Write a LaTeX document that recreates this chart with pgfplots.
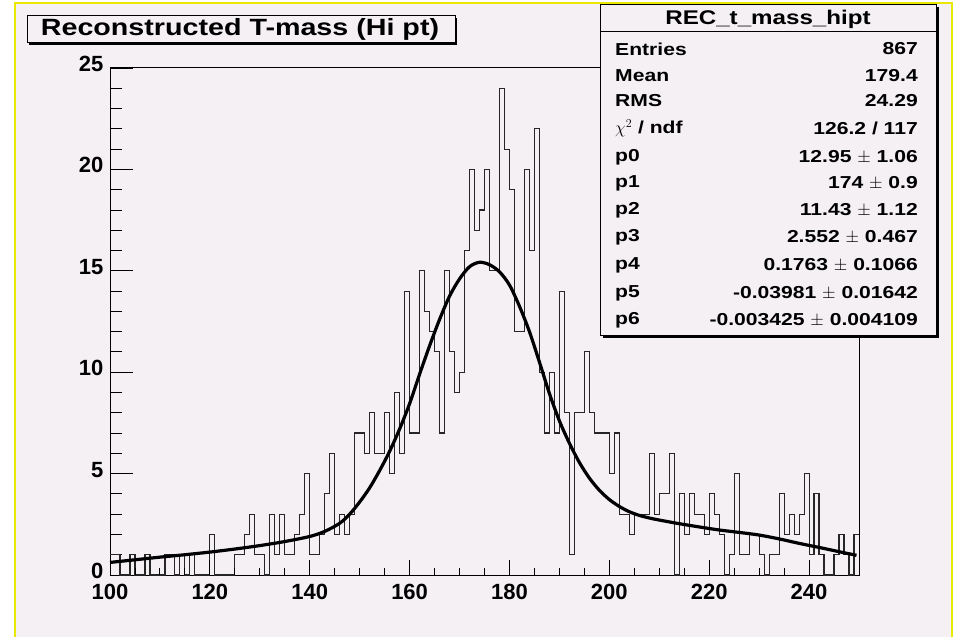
\documentclass[border=0pt]{standalone}
\usepackage{fontspec}
\setmainfont{Liberation Sans}
\newfontfamily\wide[FakeStretch=1.22]{Liberation Sans}
\usepackage{pgfplots}
\pgfplotsset{compat=1.18}
\usepackage{pgfplotstable}
\definecolor{canvas}{HTML}{F4F0F4}
\definecolor{ybord}{HTML}{E8E800}

\pgfplotstableread{
x y
100 1
101 1
102 0
103 0
104 1
105 0
106 0
107 1
108 0
109 0
110 0
111 1
112 1
113 0
114 1
115 0
116 1
117 0
118 0
119 0
120 2
121 0
122 0
123 0
124 0
125 1
126 1
127 2
128 3
129 1
130 1
131 0
132 3
133 1
134 3
135 1
136 1
137 2
138 3
139 5
140 1
141 1
142 2
143 4
144 6
145 2
146 3
147 2
148 3
149 7
150 7
151 6
152 8
153 6
154 6
155 8
156 5
157 9
158 6
159 14
160 7
161 7
162 15
163 13
164 12
165 11
166 7
167 15
168 11
169 9
170 10
171 16
172 20
173 17
174 18
175 20
176 15
177 15
178 24
179 21
180 19
181 12
182 12
183 20
184 16
185 22
186 10
187 7
188 10
189 7
190 14
191 8
192 1
193 8
194 8
195 11
196 8
197 7
198 7
199 7
200 5
201 7
202 3
203 3
204 2
205 3
206 3
207 3
208 6
209 3
210 4
211 4
212 6
213 0
214 4
215 2
216 4
217 3
218 3
219 2
220 4
221 3
222 2
223 0
224 1
225 5
226 1
227 1
228 2
229 2
230 1
231 0
232 1
233 1
234 4
235 2
236 3
237 2
238 3
239 5
240 1
241 4
242 1
243 0
244 0
245 1
246 2
247 1
248 0
249 2
250 2
}\histdata

\pgfplotstableread{
x y
100 0.62
105 0.75
110 0.88
115 1.00
120 1.13
125 1.28
130 1.45
135 1.65
140 1.90
143 2.15
146 2.55
148 3.00
150 3.60
152 4.30
154 5.15
156 6.10
158 7.20
160 8.45
162 9.90
164 11.30
166 12.60
168 13.75
170 14.60
172 15.20
174 15.42
176 15.30
178 14.95
180 14.30
182 13.25
184 12.00
186 10.50
188 8.95
190 7.60
192 6.50
194 5.55
196 4.78
198 4.18
200 3.72
202 3.38
204 3.12
206 2.94
208 2.81
210 2.71
214 2.53
218 2.37
222 2.22
226 2.10
230 1.97
234 1.78
238 1.56
242 1.36
246 1.15
249.5 0.97
}\fitdata

\newcommand{\tl}{\bfseries\fontsize{22}{22}\selectfont}
\newcommand{\st}{\wide\bfseries\fontsize{17.3}{17.3}\selectfont}

\begin{document}
\begin{tikzpicture}[x=1pt,y=1pt]
\useasboundingbox (0,0) rectangle (955,637);
\fill[white] (0,0) rectangle (955,637);
\fill[canvas] (15,0) rectangle (952,634);
\draw[ybord, line width=2] (15,0) -- (15,634) -- (952,634) -- (952,0);

% main axis (y ticks)
\begin{axis}[at={(110pt,62pt)}, anchor=south west, scale only axis,
  width=749pt, height=507pt, xmin=100, xmax=250, ymin=0, ymax=25,
  axis line style={black, line width=1pt},
  tick style={black, line width=0.9pt},
  xtick=\empty, ytick={0,5,...,25}, minor y tick num=4,
  tick align=inside, ytick pos=left,
  major tick length=23pt, minor tick length=12pt,
  /pgf/number format/assume math mode=true,
  yticklabel style={font=\tl, anchor=east, inner sep=0pt, xshift=-6.5pt, yshift=4pt},
  clip=false]
\addplot[const plot mark left, line width=1.15pt, color=black!85] table[x=x,y=y] {\histdata};
\addplot[smooth, line width=3.2pt, color=black] table[x=x,y=y] {\fitdata};
\end{axis}

% overlay axis (x ticks)
\begin{axis}[at={(110pt,62pt)}, anchor=south west, scale only axis,
  width=749pt, height=507pt, xmin=100, xmax=250, ymin=0, ymax=25,
  axis line style={draw=none},
  tick style={black, line width=0.9pt},
  ytick=\empty, xtick={100,120,...,240}, minor x tick num=3,
  tick align=inside, xtick pos=bottom,
  major tick length=15pt, minor tick length=7pt,
  /pgf/number format/assume math mode=true,
  xticklabel style={font=\tl, anchor=north, inner sep=0pt, yshift=-9pt}]
\end{axis}

% title box
\fill[black] (29,592) rectangle (457,619);
\filldraw[fill=canvas, draw=black, line width=1pt] (27,594) rectangle (455,621);
\node[font=\wide\bfseries\fontsize{23.5}{23.5}\selectfont] at (240,607.5) {Reconstructed T-mass (Hi pt)};

% stats box
\fill[black] (602.5,299) rectangle (938.5,629.5);
\filldraw[fill=canvas, draw=black, line width=1pt] (600,301) rectangle (936,632);
\draw[black, line width=1pt] (600,605) -- (936,605);
\node[font=\wide\bfseries\fontsize{19.8}{19.8}\selectfont] at (768,618) {REC\_t\_mass\_hipt};
\foreach \lab/\val/\yy in {Entries/867/588, Mean/179.4/561, RMS/24.29/536,
  p0/12.95 $\pm$ 1.06/480, p1/174 $\pm$ 0.9/454,
  p2/11.43 $\pm$ 1.12/427, p3/2.552 $\pm$ 0.467/400, p4/0.1763 $\pm$ 0.1066/372,
  p5/-0.03981 $\pm$ 0.01642/344, p6/-0.003425 $\pm$ 0.004109/317} {
  \node[font=\st, anchor=west, inner sep=0pt] at (615,\yy) {\lab};
  \node[font=\st, anchor=east, inner sep=0pt] at (918,\yy) {\val};
}
\node[font=\st, anchor=west, inner sep=0pt] at (615,509) {$\chi^{2}$ / ndf};
\node[font=\st, anchor=east, inner sep=0pt] at (918,509) {126.2 / 117};
\end{tikzpicture}
\end{document}
